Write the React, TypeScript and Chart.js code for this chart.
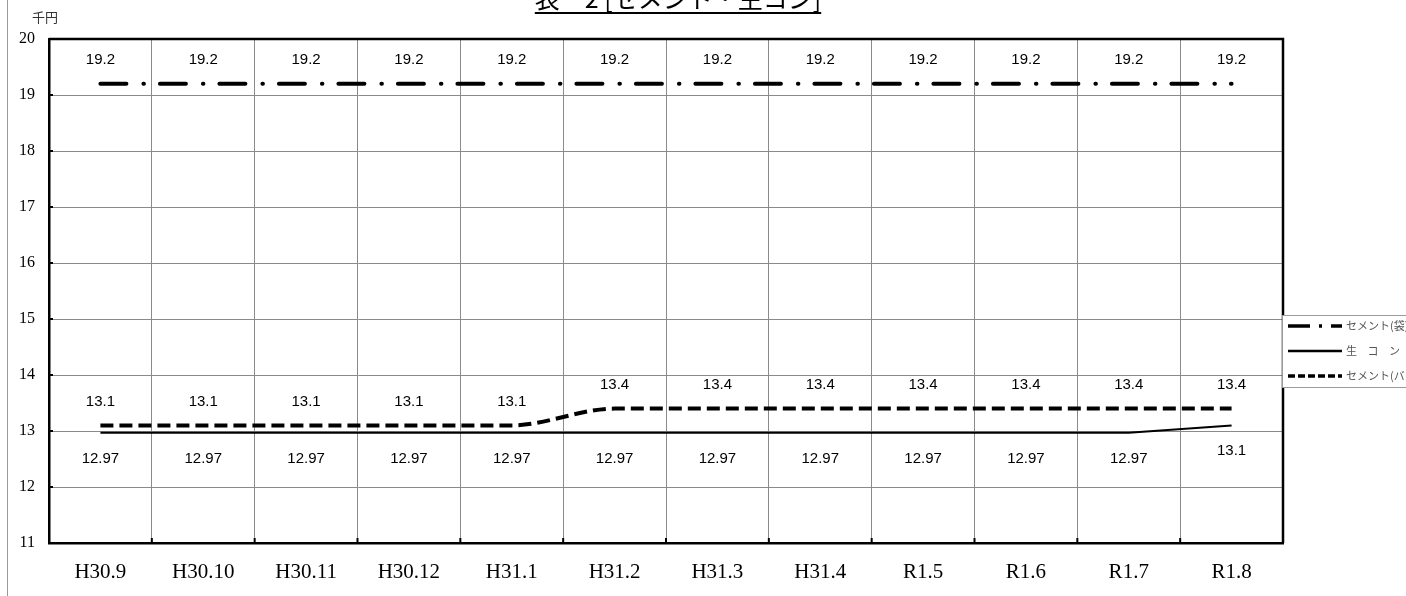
import React, { useEffect, useRef } from 'react';
import { Chart, registerables } from 'chart.js';

Chart.register(...registerables);

const categories = ['H30.9', 'H30.10', 'H30.11', 'H30.12', 'H31.1', 'H31.2', 'H31.3', 'H31.4', 'R1.5', 'R1.6', 'R1.7', 'R1.8'];
const cementBag = [19.2, 19.2, 19.2, 19.2, 19.2, 19.2, 19.2, 19.2, 19.2, 19.2, 19.2, 19.2];
const namaCon = [12.97, 12.97, 12.97, 12.97, 12.97, 12.97, 12.97, 12.97, 12.97, 12.97, 12.97, 13.1];
const cementBulk = [13.1, 13.1, 13.1, 13.1, 13.1, 13.4, 13.4, 13.4, 13.4, 13.4, 13.4, 13.4];
const yTicks = [11, 12, 13, 14, 15, 16, 17, 18, 19, 20];
const seriesLabels = ['セメント(袋)', '生 コ ン', 'セメント(バラ)'];
const titleText = '表－2 [セメント・生コン]';
const unitText = '千円';

const GRID = '#8a8a8a';

const decorPlugin = {
  id: 'decor',
  beforeDatasetsDraw(chart: any) {
    const { ctx, chartArea } = chart;
    const xs = chart.scales.x;
    const ys = chart.scales.y;
    ctx.save();
    ctx.strokeStyle = '#000';
    ctx.lineWidth = 2.5;
    ctx.beginPath();
    ctx.moveTo(chartArea.left, chartArea.top);
    ctx.lineTo(chartArea.right, chartArea.top);
    ctx.lineTo(chartArea.right, chartArea.bottom);
    ctx.stroke();
    ctx.lineWidth = 2;
    ctx.beginPath();
    for (let i = 1; i < categories.length; i++) {
      const px = (xs.getPixelForValue(i - 1) + xs.getPixelForValue(i)) / 2;
      ctx.moveTo(px, chartArea.bottom);
      ctx.lineTo(px, chartArea.bottom - 5);
    }
    for (const v of yTicks) {
      const py = ys.getPixelForValue(v);
      ctx.moveTo(chartArea.left, py);
      ctx.lineTo(chartArea.left + 4, py);
    }
    ctx.stroke();
    ctx.restore();
  },
  afterDraw(chart: any) {
    const { ctx } = chart;
    ctx.save();
    ctx.strokeStyle = '#9a9a9a';
    ctx.lineWidth = 1;
    ctx.beginPath();
    ctx.moveTo(7.5, 0);
    ctx.lineTo(7.5, 596);
    ctx.stroke();

    ctx.font = '25px "Noto Sans CJK JP"';
    ctx.fillStyle = '#000';
    ctx.textAlign = 'center';
    ctx.textBaseline = 'alphabetic';
    const tx = 678;
    ctx.fillText(titleText, tx, 8);
    const tw = ctx.measureText(titleText).width;
    ctx.lineWidth = 2;
    ctx.strokeStyle = '#000';
    ctx.beginPath();
    ctx.moveTo(tx - tw / 2, 13);
    ctx.lineTo(tx + tw / 2, 13);
    ctx.stroke();

    ctx.font = '13px "Noto Sans CJK JP"';
    ctx.fillStyle = '#333';
    ctx.textAlign = 'left';
    ctx.textBaseline = 'middle';
    ctx.fillText(unitText, 32, 17);

    ctx.fillStyle = '#fff';
    ctx.fillRect(1282, 315, 140, 72);
    ctx.strokeStyle = '#9a9a9a';
    ctx.lineWidth = 1;
    ctx.strokeRect(1282.5, 315.5, 140, 72);
    const rows = [326, 351, 376];
    const styles = [
      { dash: [22, 9, 3, 9], width: 3.5 },
      { dash: [], width: 2.5 },
      { dash: [7, 3], width: 3.5 },
    ];
    chart.data.datasets.forEach((ds: any, i: number) => {
      const y = rows[i];
      ctx.strokeStyle = '#000';
      ctx.lineWidth = styles[i].width;
      ctx.setLineDash(styles[i].dash);
      ctx.lineCap = 'butt';
      ctx.beginPath();
      ctx.moveTo(1288, y);
      ctx.lineTo(1342, y);
      ctx.stroke();
      ctx.setLineDash([]);
      ctx.font = '11px "Noto Sans CJK JP"';
      ctx.fillStyle = '#555';
      ctx.textAlign = 'left';
      ctx.textBaseline = 'middle';
      (ctx as any).letterSpacing = i === 1 ? '4px' : '0px';
      ctx.fillText(ds.label, 1346, y);
      (ctx as any).letterSpacing = '0px';
    });
    ctx.restore();
  },
};

const labelOffsets = [-24, 26, -24];

const valueLabelPlugin = {
  id: 'valueLabels',
  afterDatasetsDraw(chart: any) {
    const { ctx } = chart;
    ctx.save();
    ctx.font = '15px "Liberation Sans", Arial, sans-serif';
    ctx.fillStyle = '#000';
    ctx.textAlign = 'center';
    ctx.textBaseline = 'middle';
    chart.data.datasets.forEach((ds: any, i: number) => {
      const meta = chart.getDatasetMeta(i);
      meta.data.forEach((pt: any, j: number) => {
        const v = ds.data[j];
        let off = labelOffsets[i];
        if (i === 1 && v > 13) off = 25;
        ctx.fillText(String(v), pt.x, pt.y + off);
      });
    });
    ctx.restore();
  },
};

export default function App() {
  const ref = useRef<HTMLCanvasElement | null>(null);
  useEffect(() => {
    if (!ref.current) return;
    const chart = new Chart(ref.current, {
      type: 'line',
      data: {
        labels: categories,
        datasets: [
          {
            label: seriesLabels[0],
            data: cementBag,
            borderColor: '#000',
            borderWidth: 4,
            borderDash: [26, 17, 0.5, 16],
            borderCapStyle: 'round',
            pointRadius: 0,
            tension: 0,
          },
          {
            label: seriesLabels[1],
            data: namaCon,
            borderColor: '#000',
            borderWidth: 2,
            pointRadius: 0,
            tension: 0,
          },
          {
            label: seriesLabels[2],
            data: cementBulk,
            borderColor: '#000',
            borderWidth: 4,
            borderDash: [13, 6],
            pointRadius: 0,
            cubicInterpolationMode: 'monotone',
          },
        ],
      } as any,
      options: {
        animation: false,
        responsive: true,
        maintainAspectRatio: false,
        layout: { padding: { left: 0, right: 123, top: 39, bottom: 0 } },
        plugins: {
          legend: { display: false },
          title: { display: false },
          tooltip: { enabled: false },
        },
        scales: {
          x: {
            type: 'category',
            offset: true,
            grid: { offset: true, color: GRID, lineWidth: 1, drawTicks: false },
            border: { display: true, color: '#000', width: 2.5 },
            ticks: {
              color: '#000',
              font: { family: '"Liberation Serif"', size: 21 },
              padding: 17,
              maxRotation: 0,
              autoSkip: false,
            },
            afterFit: (s: any) => {
              s.height = 53;
            },
          },
          y: {
            type: 'linear',
            min: 11,
            max: 20,
            afterBuildTicks: (s: any) => {
              s.ticks = yTicks.map((v) => ({ value: v }));
            },
            grid: { color: GRID, lineWidth: 1, drawTicks: false },
            border: { display: true, color: '#000', width: 2.5 },
            ticks: {
              color: '#000',
              font: { family: '"Liberation Serif"', size: 16 },
              padding: 14,
            },
            afterFit: (s: any) => {
              s.width = 49;
            },
          },
        },
      } as any,
      plugins: [decorPlugin, valueLabelPlugin],
    });
    return () => chart.destroy();
  }, []);
  return (
    <div style={{ position: 'absolute', left: 0, top: 0, width: 1406, height: 596, background: '#fff' }}>
      <canvas ref={ref} />
    </div>
  );
}
